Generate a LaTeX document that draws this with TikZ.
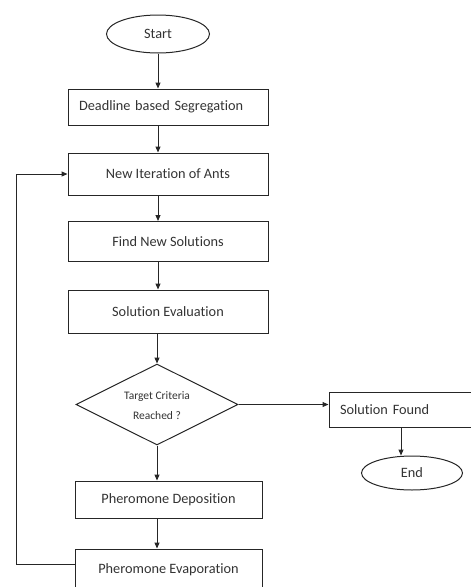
\documentclass[tikz,border=0pt]{standalone}
\usepackage{fontspec}
\setmainfont{Carlito}[Ligatures=NoCommon]
\usetikzlibrary{shapes.geometric,arrows.meta,calc}
\begin{document}
\begin{tikzpicture}[x=1pt,y=-1pt,
  line/.style={draw=black!85,line width=1pt},
  arr/.style={line,-{Triangle[length=6pt,width=5pt]}},
  txt/.style={font=\fontsize{14.3}{17}\selectfont,text=black!80},
  box/.style={line,rectangle,inner sep=0pt,txt},
  oval/.style={line,ellipse,inner sep=0pt,txt},
  dec/.style={line,diamond,inner sep=0pt}]
\useasboundingbox (0,0) rectangle (471,587);
\node[oval,minimum width=103pt,minimum height=38pt] (start) at (158,34) {Start};
\node[box,minimum height=36pt,text width=178pt,align=left,inner xsep=11pt] (ded) at (168,107) {Deadline based Segregation};
\node[box,minimum width=200pt,minimum height=42pt] (iter) at (168,174) {New Iteration of Ants};
\node[box,minimum width=200pt,minimum height=40pt] (find) at (168,241.5) {Find New Solutions};
\node[box,minimum width=200pt,minimum height=43pt] (eval) at (168,311.5) {Solution Evaluation};
\node[dec,minimum width=162pt,minimum height=81pt] (dec) at (157,404.5) {};
\node[font=\fontsize{11.5}{20}\selectfont,text=black!80,align=center] (dectxt) at (157,406) {Target Criteria\\Reached ?};
\node[box,minimum width=187pt,minimum height=37pt] (dep) at (168.5,499.5) {Pheromone Deposition};
\node[box,minimum width=187pt,minimum height=41pt] (evap) at (168.5,569.5) {Pheromone Evaporation};
\node[box,minimum height=35pt,text width=122pt,align=left,inner xsep=11pt] (sf) at (401,409.5) {Solution Found};
\node[oval,minimum width=101pt,minimum height=34pt] (end) at (412,473) {End};
\draw[arr] (start.south) -- (start.south |- ded.north);
\draw[arr] (ded.south -| start.south) -- (iter.north -| start.south);
\draw[arr] (iter.south -| start.south) -- (find.north -| start.south);
\draw[arr] (find.south -| start.south) -- (eval.north -| start.south);
\draw[arr] (eval.south -| dec.north) -- (dec.north);
\draw[arr] (dec.south) -- (dep.north -| dec.south);
\draw[arr] (dep.south -| dec.south) -- (evap.north -| dec.south);
\draw[arr] (dec.east) -- (dec.east -| sf.west);
\draw[arr] (sf.south) -- (sf.south |- end.north);
\coordinate (ev) at ($(evap.north west)+(0,16)$);
\coordinate (lp) at (16,0);
\draw[arr] (ev) -- (ev -| lp) |- (iter.west);
\end{tikzpicture}
\end{document}
